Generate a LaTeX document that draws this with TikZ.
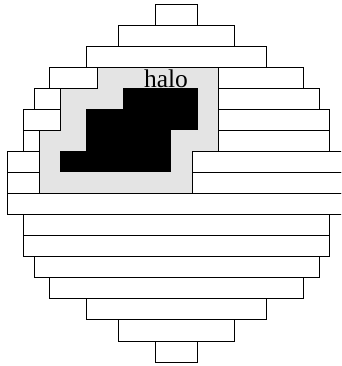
\documentclass[tikz,border=0pt]{standalone}
\usepackage{fontspec}
\setmainfont{Liberation Serif}
\definecolor{halogray}{RGB}{228,228,228}
\begin{document}
\begin{tikzpicture}[x=1pt,y=-1pt,
  cellbox/.style={draw=black,fill=white,line width=0.9pt},
  halocell/.style={fill=halogray},
  corecell/.style={fill=black}]
\useasboundingbox (0,0) rectangle (341,366);
\clip (0,0) rectangle (341,366);
\def\rh{21.06}
% halo (gray) cells
\foreach \k/\l/\r in {3/97/218,4/60/218,5/60/218,6/39/218,7/39/192,8/39/192}{
  \fill[halocell] (\l,{4+\rh*\k}) rectangle (\r,{4+\rh*(\k+1)});
}
% core (black) cells
\foreach \k/\l/\r in {4/123/198,5/86/198,6/86/171,7/60/171}{
  \fill[corecell] (\l,{4+\rh*\k}) rectangle (\r,{4+\rh*(\k+1)});
}
% plain rows
\foreach \k/\l/\r in {0/155/197,1/118/234,2/86/266,9/7/345,10/23/329,11/23/329,12/34/319,13/49/303,14/86/266,15/118/234,16/155/197}{
  \draw[cellbox] (\l,{4+\rh*\k}) rectangle (\r,{4+\rh*(\k+1)});
}
% white side boxes of halo rows
\foreach \k/\l/\r in {3/49/97,3/218/303,4/34/60,4/218/319,5/23/60,5/218/329,6/23/39,6/218/329,7/7/39,7/192/345,8/7/39,8/192/345}{
  \draw[cellbox] (\l,{4+\rh*\k}) rectangle (\r,{4+\rh*(\k+1)});
}
\node[anchor=base,inner sep=0pt,font=\fontsize{25.5}{25.5}\selectfont] (halolabel) at (166,88) {halo};
\end{tikzpicture}
\end{document}
